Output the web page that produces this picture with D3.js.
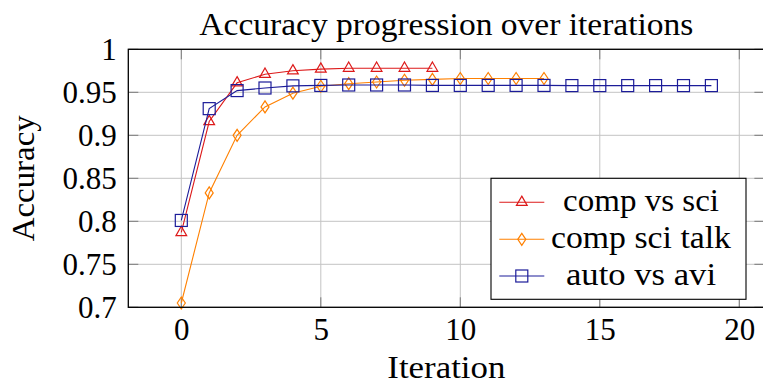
<!DOCTYPE html>
<html>
<head>
<meta charset="utf-8">
<script src="https://cdn.jsdelivr.net/npm/d3@7"></script>
<style>
  html, body { margin: 0; padding: 0; background: #fff; }
  svg { display: block; }
</style>
</head>
<body>
<svg id="chart" width="763" height="384" font-family="Liberation Serif, Times New Roman, serif"></svg>
<script>
// Accuracy per iteration for three classification tasks
const compVsSci   = [0.787, 0.916, 0.961, 0.971, 0.975, 0.977, 0.978, 0.978, 0.978, 0.978];
const compSciTalk = [0.705, 0.833, 0.900, 0.933, 0.949, 0.957, 0.960, 0.962, 0.964, 0.965,
                     0.966, 0.966, 0.966, 0.966];
const autoVsAvi   = [0.801, 0.931, 0.952, 0.955, 0.9575, 0.958, 0.9585, 0.9585, 0.9585, 0.958,
                     0.958, 0.958, 0.958, 0.958, 0.9578, 0.9578, 0.9578, 0.9578, 0.9578, 0.9578];

const seriesNames = ["comp vs sci", "comp sci talk", "auto vs avi"];
const xTicks = [0, 5, 10, 15, 20];
const yTicks = [0.7, 0.75, 0.8, 0.85, 0.9, 0.95, 1];
const titleText = "Accuracy progression over iterations";
const xLabel = "Iteration";
const yLabel = "Accuracy";

const series = [
  { name: seriesNames[0], values: compVsSci,   color: "#dd1a1a", mark: "triangle", textW: 156 },
  { name: seriesNames[1], values: compSciTalk, color: "#ff8000", mark: "diamond",  textW: 180 },
  { name: seriesNames[2], values: autoVsAvi,   color: "#1c1c99", mark: "square",   textW: 150 }
];

const SERIF = "Liberation Serif, Times New Roman, serif";
const svg = d3.select("#chart");
const plot = { left: 128.3, top: 49.3, right: 764.4, bottom: 307.3 };
const FS = 31;

const x = d3.scaleLinear().domain([-1.9, 20.9]).range([plot.left, plot.right]);
const y = d3.scaleLinear().domain([0.7, 1.0]).range([plot.bottom, plot.top]);

// grid
const grid = svg.append("g");
grid.selectAll("line.gx").data(xTicks).join("line")
  .attr("x1", d => x(d)).attr("x2", d => x(d))
  .attr("y1", plot.top).attr("y2", plot.bottom)
  .attr("stroke", "#c4c4c4").attr("stroke-width", 1);
grid.selectAll("line.gy").data(yTicks).join("line")
  .attr("x1", plot.left).attr("x2", plot.right)
  .attr("y1", d => y(d)).attr("y2", d => y(d))
  .attr("stroke", "#c4c4c4").attr("stroke-width", 1);

// inward tick marks on all four sides
const tl = 10;
const ticks = svg.append("g").attr("stroke", "#7a7a7a").attr("stroke-width", 1);
xTicks.forEach(t => {
  ticks.append("line").attr("x1", x(t)).attr("x2", x(t)).attr("y1", plot.bottom).attr("y2", plot.bottom - tl);
  ticks.append("line").attr("x1", x(t)).attr("x2", x(t)).attr("y1", plot.top).attr("y2", plot.top + tl);
});
yTicks.forEach(t => {
  ticks.append("line").attr("x1", plot.left).attr("x2", plot.left + tl).attr("y1", y(t)).attr("y2", y(t));
  ticks.append("line").attr("x1", plot.right).attr("x2", plot.right - tl).attr("y1", y(t)).attr("y2", y(t));
});

// tick labels via d3 axes (axis lines hidden, frame drawn separately)
const xAxis = d3.axisBottom(x).tickValues(xTicks).tickSize(0).tickPadding(0).tickFormat(d3.format("d"));
const yAxis = d3.axisLeft(y).tickValues(yTicks).tickSize(0).tickPadding(0).tickFormat(d => String(+d));

const gx = svg.append("g").attr("transform", `translate(0,${plot.bottom})`).call(xAxis);
gx.attr("font-family", SERIF).attr("font-size", FS);
gx.select(".domain").remove();
gx.selectAll("text").attr("dy", null).attr("y", 32.5).attr("fill", "#000");

const gy = svg.append("g").attr("transform", `translate(${plot.left},0)`).call(yAxis);
gy.attr("font-family", SERIF).attr("font-size", FS);
gy.select(".domain").remove();
gy.selectAll("text").attr("x", -11.5).attr("dy", null).attr("y", 10.5).attr("fill", "#000");

// series lines and marks
const line = d3.line().x((d, i) => x(i)).y(d => y(d));
const r = 6.2;
function drawMark(g, kind, cx, cy, color) {
  if (kind === "triangle") {
    g.append("path")
      .attr("d", `M${cx},${cy - r}L${cx + 0.866 * r},${cy + 0.5 * r}L${cx - 0.866 * r},${cy + 0.5 * r}Z`)
      .attr("fill", "none").attr("stroke", color).attr("stroke-width", 1.2);
  } else if (kind === "diamond") {
    g.append("path")
      .attr("d", `M${cx},${cy - 6}L${cx + 4},${cy}L${cx},${cy + 6}L${cx - 4},${cy}Z`)
      .attr("fill", "none").attr("stroke", color).attr("stroke-width", 1.2);
  } else {
    g.append("rect").attr("x", cx - 6).attr("y", cy - 6).attr("width", 12).attr("height", 12)
      .attr("fill", "none").attr("stroke", color).attr("stroke-width", 1.2);
  }
}

const marksLayer = svg.append("g");
series.forEach(s => {
  marksLayer.append("path").datum(s.values)
    .attr("d", line).attr("fill", "none")
    .attr("stroke", s.color).attr("stroke-width", 1.1);
  s.values.forEach((v, i) => drawMark(marksLayer, s.mark, x(i), y(v), s.color));
});

// frame
svg.append("rect")
  .attr("x", plot.left).attr("y", plot.top)
  .attr("width", plot.right - plot.left).attr("height", plot.bottom - plot.top)
  .attr("fill", "none").attr("stroke", "#000").attr("stroke-width", 1.3);

// legend
const lg = { x: 491, y: 178.3, w: 255, h: 121 };
const legend = svg.append("g");
legend.append("rect").attr("x", lg.x).attr("y", lg.y).attr("width", lg.w).attr("height", lg.h)
  .attr("fill", "#fff").attr("stroke", "#000").attr("stroke-width", 1.1);
const rowY = [202.3, 239.3, 276];
series.forEach((s, i) => {
  const cy = rowY[i];
  legend.append("line").attr("x1", 499.3).attr("x2", 544.3).attr("y1", cy).attr("y2", cy)
    .attr("stroke", s.color).attr("stroke-width", 1.1);
  drawMark(legend, s.mark, 521.8, cy, s.color);
  legend.append("text").attr("x", 641).attr("y", cy + 8.5)
    .attr("text-anchor", "middle").attr("font-size", FS)
    .attr("textLength", s.textW).attr("lengthAdjust", "spacingAndGlyphs")
    .text(s.name);
});

// title and axis titles
svg.append("text").attr("x", (plot.left + plot.right) / 2).attr("y", 35)
  .attr("text-anchor", "middle").attr("font-size", FS)
  .attr("textLength", 494).attr("lengthAdjust", "spacingAndGlyphs")
  .text(titleText);

svg.append("text").attr("x", (plot.left + plot.right) / 2).attr("y", 377.5)
  .attr("text-anchor", "middle").attr("font-size", FS)
  .attr("textLength", 118).attr("lengthAdjust", "spacingAndGlyphs")
  .text(xLabel);

svg.append("text")
  .attr("transform", `translate(34,${(plot.top + plot.bottom) / 2}) rotate(-90)`)
  .attr("text-anchor", "middle").attr("font-size", FS)
  .attr("textLength", 126).attr("lengthAdjust", "spacingAndGlyphs")
  .text(yLabel);
</script>
</body>
</html>
